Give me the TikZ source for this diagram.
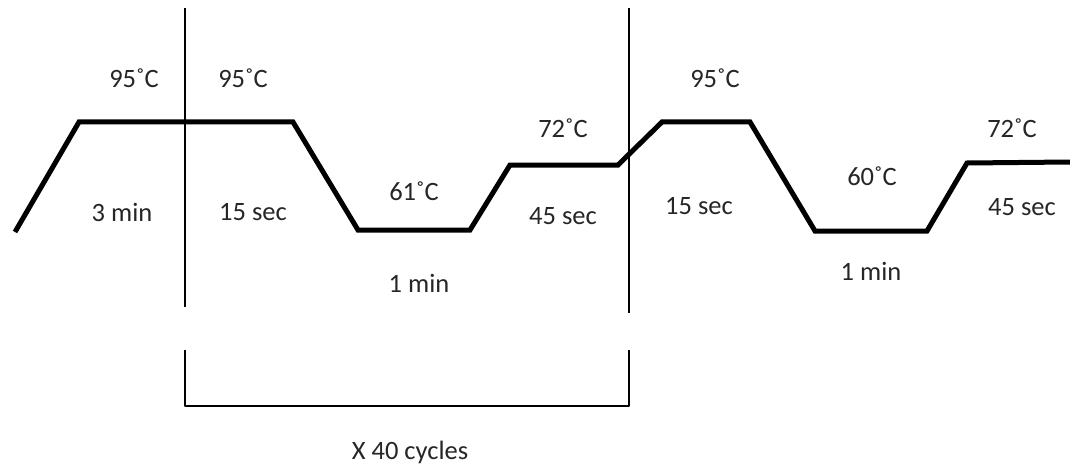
\documentclass[tikz,border=0pt]{standalone}
\usepackage{fontspec}
\setmainfont{Carlito}
\begin{document}
\begin{tikzpicture}[x=1pt,y=-1pt,
  profile/.style={line width=5pt,line join=miter,black},
  divider/.style={line width=1.8pt,black},
  bracketline/.style={line width=2.4pt,black,line join=round},
  lbl/.style={text=black!85,font=\fontsize{26.5}{30}\selectfont,inner sep=0pt,anchor=center}]
\useasboundingbox (0,0) rectangle (1070,468);
% profile points
\coordinate (p0) at (15,232);
\coordinate (p1) at (79,122);
\coordinate (p2) at (293,122);
\coordinate (p3) at (358,230);
\coordinate (p4) at (470,230);
\coordinate (p5) at (510,165);
\coordinate (p6) at (618,165);
\coordinate (p7) at (662,122);
\coordinate (p8) at (750,122);
\coordinate (p9) at (815,231);
\coordinate (p10) at (927,231);
\coordinate (p11) at (967,163);
\coordinate (p12) at (1070,162);
\draw[profile] (p0) -- (p1) -- (p2) -- (p3) -- (p4) -- (p5) -- (p6) -- (p7) -- (p8) -- (p9) -- (p10) -- (p11) -- (p12);
% dividers
\coordinate (d1t) at (185,8);
\coordinate (d1b) at (185,307);
\coordinate (d2t) at (629,8);
\coordinate (d2b) at (629,313);
\draw[divider] (d1t) -- (d1b);
\draw[divider] (d2t) -- (d2b);
% bracket
\coordinate (b1) at (185,350);
\coordinate (b2) at (185,406);
\coordinate (b3) at (629,406);
\coordinate (b4) at (629,350);
\draw[bracketline] (b1) -- (b2) -- (b3) -- (b4);
% labels
\node[lbl] (t1) at (134,78) {95˚C};
\node[lbl] (t2) at (243,78) {95˚C};
\node[lbl] (t3) at (122,212) {3 min};
\node[lbl] (t4) at (253,212) {15 sec};
\node[lbl] (t5) at (414,191) {61˚C};
\node[lbl] (t6) at (563,128) {72˚C};
\node[lbl] (t7) at (563,216) {45 sec};
\node[lbl] (t8) at (419,283) {1 min};
\node[lbl] (t9) at (715,78) {95˚C};
\node[lbl] (t10) at (699,206) {15 sec};
\node[lbl] (t11) at (872,176) {60˚C};
\node[lbl] (t12) at (1012,128) {72˚C};
\node[lbl] (t13) at (1022,207) {45 sec};
\node[lbl] (t14) at (871,271) {1 min};
\node[lbl] (t15) at (410,452) {X 40 cycles};
\end{tikzpicture}
\end{document}
